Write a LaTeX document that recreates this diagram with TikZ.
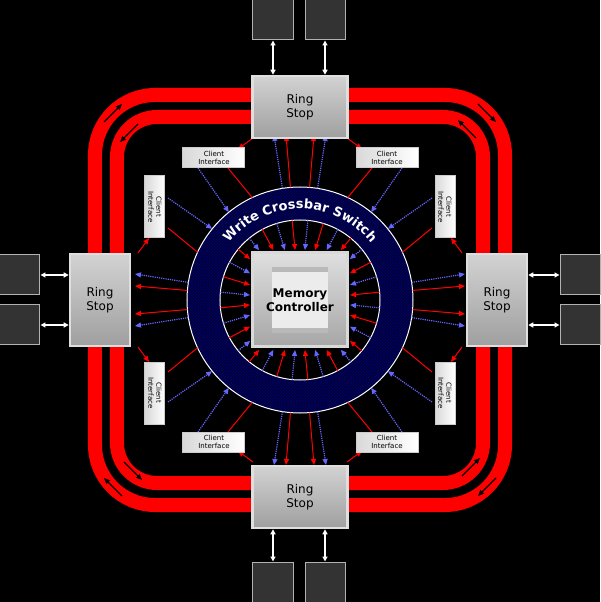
\documentclass[tikz,border=0pt]{standalone}
\usepackage{fontspec}
\setsansfont{DejaVu Sans}
\usetikzlibrary{arrows.meta,positioning,patterns,decorations.text}

\tikzset{
  band/.style={draw=red, line width=14pt},
  ringstop/.style={draw=gray!25, line width=2.5pt, top color=gray!35, bottom color=gray!75,
    minimum width=95pt, minimum height=62pt, font=\sffamily\large, align=center, inner sep=0pt},
  client/.style={draw=gray!40, line width=1pt, left color=gray!30, right color=white,
    minimum width=62pt, minimum height=20pt, font=\sffamily\scriptsize, align=center, inner sep=0pt},
  module/.style={draw=gray!60, line width=1pt, fill=black!80, minimum size=40pt},
  redspoke/.style={red, line width=1pt},
  bluespoke/.style={blue!60!white, line width=1.2pt, densely dotted},
  tip/.style={-{Triangle[length=6pt,width=5pt]}},
  link/.style={white, line width=1.2pt, {Triangle[length=5pt,width=5pt]}-{Triangle[length=5pt,width=5pt]}}
}

\begin{document}
\begin{tikzpicture}[x=1pt, y=1pt]
  \fill[black] (-300,-302) rectangle (300,300);
  \useasboundingbox (-300,-302) rectangle (300,300);

  % the two ring bands
  \draw[band, rounded corners=60pt] (-205,-205) rectangle (205,205);
  \draw[band, rounded corners=40pt] (-183,-183) rectangle (183,183);
  \foreach \r in {0,90,180,270}{
    \begin{scope}[rotate=\r]
      \draw[black, line width=1.2pt, tip] (-196,178) -- (-178,196);
      \draw[black, line width=1.2pt, tip] (-162,176) -- (-180,158);
    \end{scope}
  }

  % crossbar ring
  \fill[fill=blue!12!black, even odd rule] (0,0) circle (113) (0,0) circle (80);
  \fill[pattern=crosshatch, pattern color=blue!45!black, even odd rule] (0,0) circle (113) (0,0) circle (80);
  \draw[white, line width=1pt] (0,0) circle (113) (0,0) circle (80);
  \path[decorate, decoration={text along path, text align=center,
      text={|\sffamily\bfseries\color{white}\fontsize{13}{13}\selectfont|Write Crossbar Switch}}]
    (160:91) arc (160:20:91);

  % spokes outside the crossbar
  \foreach \r in {0,90,180,270}{
    \begin{scope}[rotate=\r]
      \foreach \x in {-14,14}
        \draw[redspoke, tip] ({atan2(165,\x)}:113) -- (\x,165);
      \foreach \x in {-26,26}
        \draw[bluespoke, tip] ({atan2(165,\x)}:113) -- (\x,165);
      \draw[bluespoke, tip] (-102,132) -- (129:113);
      \draw[redspoke] (-72,132) -- (115:113);
      \draw[bluespoke, tip] (102,132) -- (51:113);
      \draw[redspoke] (72,132) -- (65:113);
      \draw[redspoke, tip] (-47,162) -- (-62,151);
      \draw[redspoke, tip] (47,162) -- (62,151);
    \end{scope}
  }

  % spokes inside the crossbar
  \foreach \i in {0,...,31}{
    \pgfmathsetmacro\a{\i*11.25+5.625}
    \pgfmathsetmacro\e{49/max(abs(cos(\a)),abs(sin(\a)))+1}
    \ifodd\i
      \draw[bluespoke, tip] (\a:80) -- (\a:\e);
    \else
      \draw[redspoke, tip] (\a:80) -- (\a:\e);
    \fi
  }

  % memory controller
  \node[draw=gray!30, line width=3pt, top color=gray!25, bottom color=gray!70,
    minimum size=94pt, inner sep=0pt] (MC) at (0,0) {};
  \node[fill=gray!55, minimum width=56pt, minimum height=66pt] at (MC) {};
  \node[fill=gray!15, minimum size=56pt] at (MC) {};
  \node[font=\sffamily\bfseries\large, align=center] at (MC) {Memory\\Controller};

  % ring stops
  \node[ringstop] (RSt) at (0,193) {Ring\\Stop};
  \node[ringstop] (RSb) at (0,-197) {Ring\\Stop};
  \node[ringstop, minimum width=60pt, minimum height=92pt] (RSl) at (-200,0) {Ring\\Stop};
  \node[ringstop, minimum width=60pt, minimum height=92pt] (RSr) at (197,0) {Ring\\Stop};

  % client interfaces
  \node[client] (CItl) at (-86,142) {Client\\Interface};
  \node[client] (CItr) at (87,142) {Client\\Interface};
  \node[client] (CIbl) at (-86,-142) {Client\\Interface};
  \node[client] (CIbr) at (87,-142) {Client\\Interface};
  \node[client, rotate=-90] (CIlt) at (-145,93) {Client\\Interface};
  \node[client, rotate=-90] (CIlb) at (-145,-93) {Client\\Interface};
  \node[client, rotate=-90] (CIrt) at (145,93) {Client\\Interface};
  \node[client, rotate=-90] (CIrb) at (145,-93) {Client\\Interface};

  % memory modules
  \node[module] (Mt1) at (-27,280) {};
  \node[module] (Mt2) at (25,280) {};
  \node[module] (Mb1) at (-27,-282) {};
  \node[module] (Mb2) at (25,-282) {};
  \node[module] (Ml1) at (-280,25) {};
  \node[module] (Ml2) at (-280,-25) {};
  \node[module] (Mr1) at (280,25) {};
  \node[module] (Mr2) at (280,-25) {};

  \draw[link] (Mt1.south) -- (Mt1.south |- RSt.north);
  \draw[link] (Mt2.south) -- (Mt2.south |- RSt.north);
  \draw[link] (Mb1.north) -- (Mb1.north |- RSb.south);
  \draw[link] (Mb2.north) -- (Mb2.north |- RSb.south);
  \draw[link] (Ml1.east) -- (Ml1.east -| RSl.west);
  \draw[link] (Ml2.east) -- (Ml2.east -| RSl.west);
  \draw[link] (Mr1.west) -- (Mr1.west -| RSr.east);
  \draw[link] (Mr2.west) -- (Mr2.west -| RSr.east);
\end{tikzpicture}
\end{document}
